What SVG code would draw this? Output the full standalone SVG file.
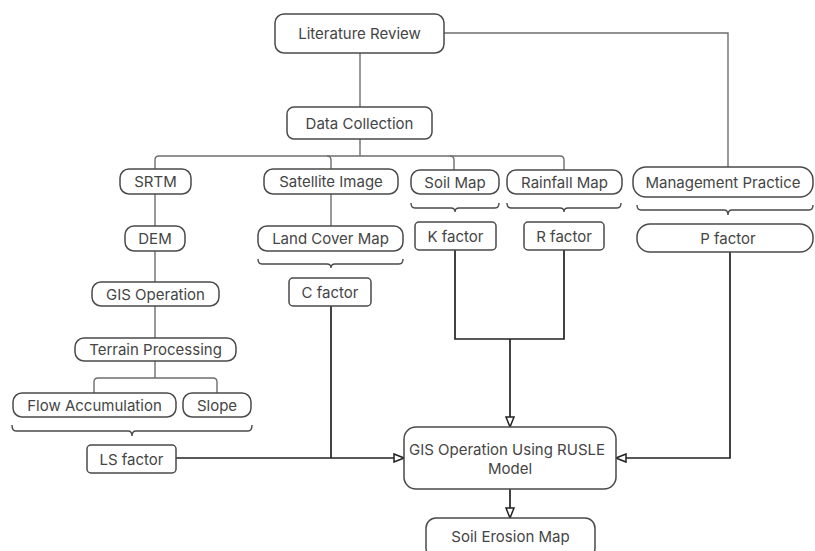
<svg xmlns="http://www.w3.org/2000/svg" width="815" height="551" viewBox="0 0 815 551">
<style>
.n{fill:#fff;stroke:#4a4a4a;stroke-width:1.5}
.t{font-family:Inter,"Noto Sans","Liberation Sans",sans-serif;font-size:15px;fill:#454545;text-anchor:middle;dominant-baseline:central}
.c{fill:none;stroke:#6e6e6e;stroke-width:1.4}
.d{fill:none;stroke:#222;stroke-width:1.7}
.b{fill:none;stroke:#4a4a4a;stroke-width:1.4}
</style>
<defs>
<marker id="ah" viewBox="0 0 12 10" refX="11" refY="5" markerWidth="12" markerHeight="10" markerUnits="userSpaceOnUse" orient="auto">
<path d="M1,1 L11,5 L1,9 Z" fill="#fff" stroke="#222" stroke-width="1.5"/>
</marker>
</defs>
<rect width="815" height="551" fill="#fff"/>
<g id="connectors">
<path class="c" d="M360,53 V107"/>
<path class="c" d="M444,33 H728 V167"/>
<path class="c" d="M360,139 V156"/>
<path class="c" d="M155,169 V160 Q155,156 159,156 H560 Q564,156 564,160 V170"/>
<path class="c" d="M327,156 Q331,156 331,160 V169"/>
<path class="c" d="M450,156 Q454,156 454,160 V170"/>
<path class="c" d="M155,194 V226"/>
<path class="c" d="M155,251 V282"/>
<path class="c" d="M155,306 V338"/>
<path class="c" d="M331,194 V226"/>
<path class="c" d="M155,361 V378"/>
<path class="c" d="M94,393 V382 Q94,378 98,378 H213 Q217,378 217,382 V393"/>
<path class="b" d="M258,259 Q258,264 262,264 H327 Q331,264 331,268 Q331,264 335,264 H399 Q403,264 403,259"/>
<path class="b" d="M411,203 Q411,208 415,208 H451 Q455,208 455,212 Q455,208 459,208 H495 Q499,208 499,203"/>
<path class="b" d="M507,203 Q507,208 511,208 H560 Q564,208 564,212 Q564,208 568,208 H617 Q621,208 621,203"/>
<path class="b" d="M637,205 Q637,210 641,210 H724 Q728,210 728,215 Q728,210 732,210 H809 Q813,210 813,205"/>
<path class="b" d="M12,425 Q12,431 16,431 H128 Q132,431 132,436 Q132,431 136,431 H248 Q252,431 252,425"/>
<path class="d" d="M455,250 V339 H564 V250"/>
<path class="d" d="M510,339 V427" marker-end="url(#ah)"/>
<path class="d" d="M176,458 H404" marker-end="url(#ah)"/>
<path class="d" d="M331,306 V458"/>
<path class="d" d="M730,252 V458 H616" marker-end="url(#ah)"/>
<path class="d" d="M510,489 V518" marker-end="url(#ah)"/>
</g>
<g id="literature-review"><rect class="n" x="275" y="14" width="169" height="39" rx="9"/><text class="t" x="359.5" y="33.5">Literature Review</text></g>
<g id="data-collection"><rect class="n" x="287" y="107" width="145" height="32" rx="7"/><text class="t" x="359.5" y="123">Data Collection</text></g>
<g id="srtm"><rect class="n" x="120" y="169" width="71" height="25" rx="9"/><text class="t" x="155.5" y="181.5">SRTM</text></g>
<g id="satellite-image"><rect class="n" x="264" y="169" width="134" height="25" rx="9"/><text class="t" x="331" y="181.5">Satellite Image</text></g>
<g id="soil-map"><rect class="n" x="411" y="170" width="88" height="24" rx="9"/><text class="t" x="455" y="182">Soil Map</text></g>
<g id="rainfall-map"><rect class="n" x="507" y="170" width="115" height="24" rx="9"/><text class="t" x="564.5" y="182">Rainfall Map</text></g>
<g id="management-practice"><rect class="n" x="633" y="167" width="180" height="30" rx="13"/><text class="t" x="723" y="182">Management Practice</text></g>
<g id="dem"><rect class="n" x="125" y="226" width="60" height="25" rx="9"/><text class="t" x="155" y="238.5">DEM</text></g>
<g id="land-cover-map"><rect class="n" x="258" y="226" width="145" height="25" rx="9"/><text class="t" x="330.5" y="238.5">Land Cover Map</text></g>
<g id="k-factor"><rect class="n" x="415" y="222" width="81" height="28" rx="4"/><text class="t" x="455.5" y="236">K factor</text></g>
<g id="r-factor"><rect class="n" x="524" y="222" width="80" height="28" rx="4"/><text class="t" x="564" y="236">R factor</text></g>
<g id="p-factor"><rect class="n" x="637" y="224" width="176" height="28" rx="13"/><text class="t" x="728" y="238">P factor</text></g>
<g id="gis-operation"><rect class="n" x="92" y="282" width="127" height="24" rx="9"/><text class="t" x="155.5" y="294">GIS Operation</text></g>
<g id="c-factor"><rect class="n" x="289" y="278" width="82" height="28" rx="4"/><text class="t" x="330" y="292">C factor</text></g>
<g id="terrain-processing"><rect class="n" x="75" y="338" width="161" height="23" rx="9"/><text class="t" x="155.5" y="349.5">Terrain Processing</text></g>
<g id="flow-accumulation"><rect class="n" x="13" y="393" width="163" height="24" rx="9"/><text class="t" x="94.5" y="405">Flow Accumulation</text></g>
<g id="slope"><rect class="n" x="183" y="393" width="68" height="24" rx="9"/><text class="t" x="217" y="405">Slope</text></g>
<g id="ls-factor"><rect class="n" x="87" y="445" width="89" height="28" rx="4"/><text class="t" x="131.5" y="459">LS factor</text></g>
<g id="gis-rusle"><rect class="n" x="404" y="427" width="212" height="62" rx="12"/><text class="t" x="507" y="449">GIS Operation Using RUSLE</text><text class="t" x="510" y="468">Model</text></g>
<g id="soil-erosion-map"><rect class="n" x="426" y="518" width="169" height="40" rx="10"/><text class="t" x="510.5" y="536">Soil Erosion Map</text></g>
</svg>
